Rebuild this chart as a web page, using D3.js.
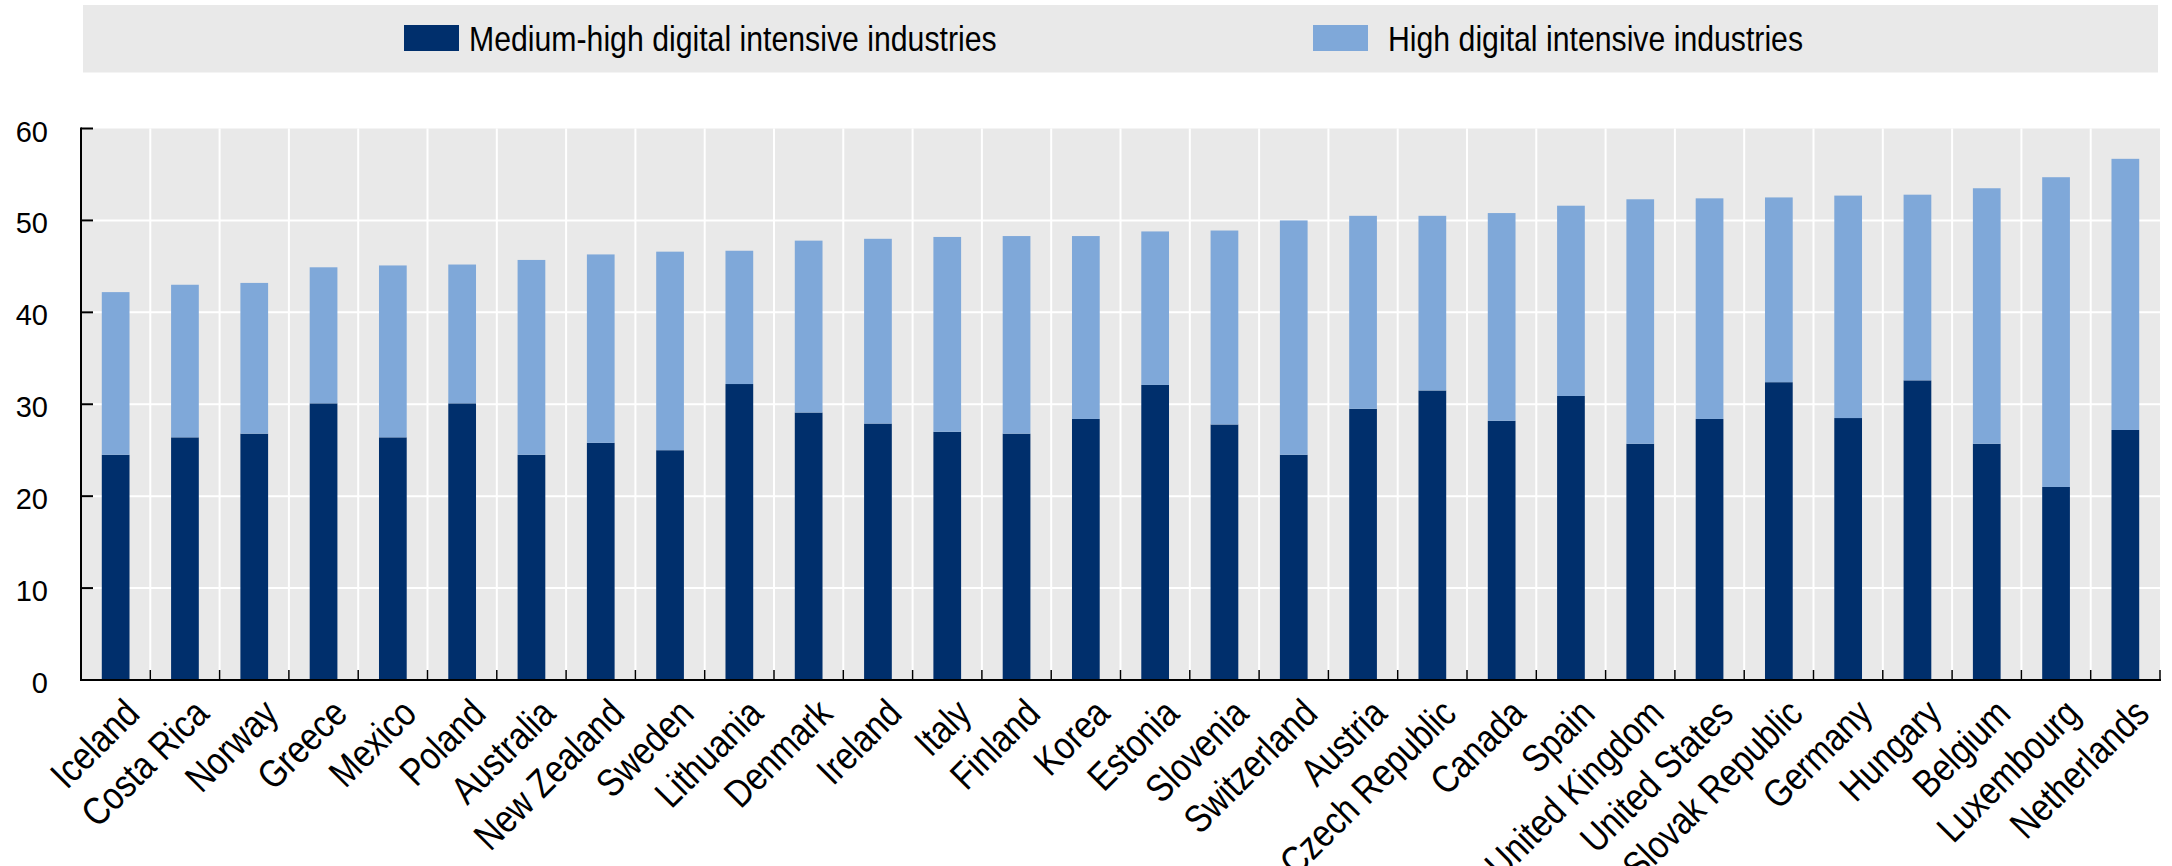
<!DOCTYPE html>
<html>
<head>
<meta charset="utf-8">
<script src="https://cdn.jsdelivr.net/npm/d3@7"></script>
<style>
  html, body { margin: 0; padding: 0; background: #ffffff; }
  svg { display: block; }
  text { font-family: "Liberation Sans", Arial, Helvetica, sans-serif; fill: #000; }
</style>
</head>
<body>
<svg id="chart" width="2172" height="866"></svg>
<script>
// ---- data ----
const countries = ["Iceland","Costa Rica","Norway","Greece","Mexico","Poland","Australia","New Zealand","Sweden","Lithuania","Denmark","Ireland","Italy","Finland","Korea","Estonia","Slovenia","Switzerland","Austria","Czech Republic","Canada","Spain","United Kingdom","United States","Slovak Republic","Germany","Hungary","Belgium","Luxembourg","Netherlands"];
const mediumHigh = [24.5,26.4,26.8,30.1,26.4,30.1,24.5,25.8,25.0,32.2,29.1,27.9,27.0,26.8,28.4,32.1,27.8,24.5,29.5,31.5,28.2,30.9,25.7,28.4,32.4,28.5,32.6,25.7,21.0,27.2];
const high = [17.7,16.6,16.4,14.8,18.7,15.1,21.2,20.5,21.6,14.5,18.7,20.1,21.2,21.5,19.9,16.7,21.1,25.5,21.0,19.0,22.6,20.7,26.6,24.0,20.1,24.2,20.2,27.8,33.7,29.5];
const seriesNames = ["Medium-high digital intensive industries","High digital intensive industries"];
const yTicks = [0,10,20,30,40,50,60];

// ---- layout / style ----
const colors = ["#002F6C", "#7FA8D9"];
const plotBg = "#E9E9E9";
const pLeft = 81, pRight = 2160, pTop = 128.5, pBottom = 680;
const narrow = 0.84;

const svg = d3.select("#chart");

const x = d3.scaleBand().domain(countries).range([pLeft, pRight]).paddingInner(0.6).paddingOuter(0.3);
const y = d3.scaleLinear().domain([0, 60]).range([pBottom, pTop]);
const step = x.step();

// legend box
svg.append("rect").attr("x", 83).attr("y", 5).attr("width", 2158 - 83).attr("height", 67.5).attr("fill", plotBg);
const legendItems = [{sx: 404, tx: 469}, {sx: 1313, tx: 1388}];
legendItems.forEach((d, i) => {
  svg.append("rect").attr("x", d.sx).attr("y", 25).attr("width", 55).attr("height", 26).attr("fill", colors[i]);
  svg.append("text")
    .attr("transform", `translate(${d.tx},51) scale(${narrow},1)`)
    .attr("font-size", 36)
    .text(seriesNames[i]);
});

// plot background
svg.append("rect").attr("x", pLeft).attr("y", pTop).attr("width", pRight - pLeft).attr("height", pBottom - pTop).attr("fill", plotBg);

// horizontal gridlines
svg.append("g").selectAll("line").data(yTicks.filter(t => t > 0 && t < 60)).join("line")
  .attr("x1", pLeft).attr("x2", pRight)
  .attr("y1", d => y(d)).attr("y2", d => y(d))
  .attr("stroke", "#ffffff").attr("stroke-width", 2);

// vertical gridlines at band boundaries
const boundaries = countries.map(c => x(c) - x.paddingOuter() * step).concat([pRight]);
svg.append("g").selectAll("line").data(boundaries.slice(1, -1)).join("line")
  .attr("x1", d => d).attr("x2", d => d)
  .attr("y1", pTop).attr("y2", pBottom)
  .attr("stroke", "#ffffff").attr("stroke-width", 2);

// stacked bars
const table = countries.map((c, i) => ({country: c, mh: mediumHigh[i], h: high[i]}));
const stack = d3.stack().keys(["mh", "h"])(table);
svg.append("g").selectAll("g").data(stack).join("g")
  .attr("fill", (d, i) => colors[i])
  .selectAll("rect").data(d => d).join("rect")
  .attr("x", d => x(d.data.country))
  .attr("width", x.bandwidth())
  .attr("y", d => y(d[1]))
  .attr("height", d => y(d[0]) - y(d[1]));

// y axis
const yAxis = svg.append("g");
yAxis.append("line").attr("x1", pLeft).attr("x2", pLeft).attr("y1", pTop - 1).attr("y2", pBottom + 1)
  .attr("stroke", "#000").attr("stroke-width", 2);
yAxis.selectAll("line.tick").data(yTicks).join("line").attr("class", "tick")
  .attr("x1", pLeft).attr("x2", pLeft + 12)
  .attr("y1", d => y(d)).attr("y2", d => y(d))
  .attr("stroke", "#000").attr("stroke-width", 2);
yAxis.selectAll("text").data(yTicks).join("text")
  .attr("x", 48).attr("y", d => y(d) + 3)
  .attr("text-anchor", "end").attr("dominant-baseline", "central")
  .attr("font-size", 29)
  .text(d => d);

// x axis
const xAxis = svg.append("g");
xAxis.append("line").attr("x1", pLeft - 1).attr("x2", pRight + 1).attr("y1", pBottom).attr("y2", pBottom)
  .attr("stroke", "#000").attr("stroke-width", 2);
xAxis.selectAll("line.tick").data(boundaries).join("line").attr("class", "tick")
  .attr("x1", d => d).attr("x2", d => d)
  .attr("y1", pBottom).attr("y2", pBottom - 10)
  .attr("stroke", "#000").attr("stroke-width", 1.5);
xAxis.selectAll("text").data(countries).join("text")
  .attr("transform", d => `translate(${x(d) + x.bandwidth() / 2 + 6},${pBottom + 16}) rotate(-45) scale(${narrow},1)`)
  .attr("text-anchor", "end")
  .attr("dy", "0.72em")
  .attr("font-size", 39)
  .text(d => d);
</script>
</body>
</html>
